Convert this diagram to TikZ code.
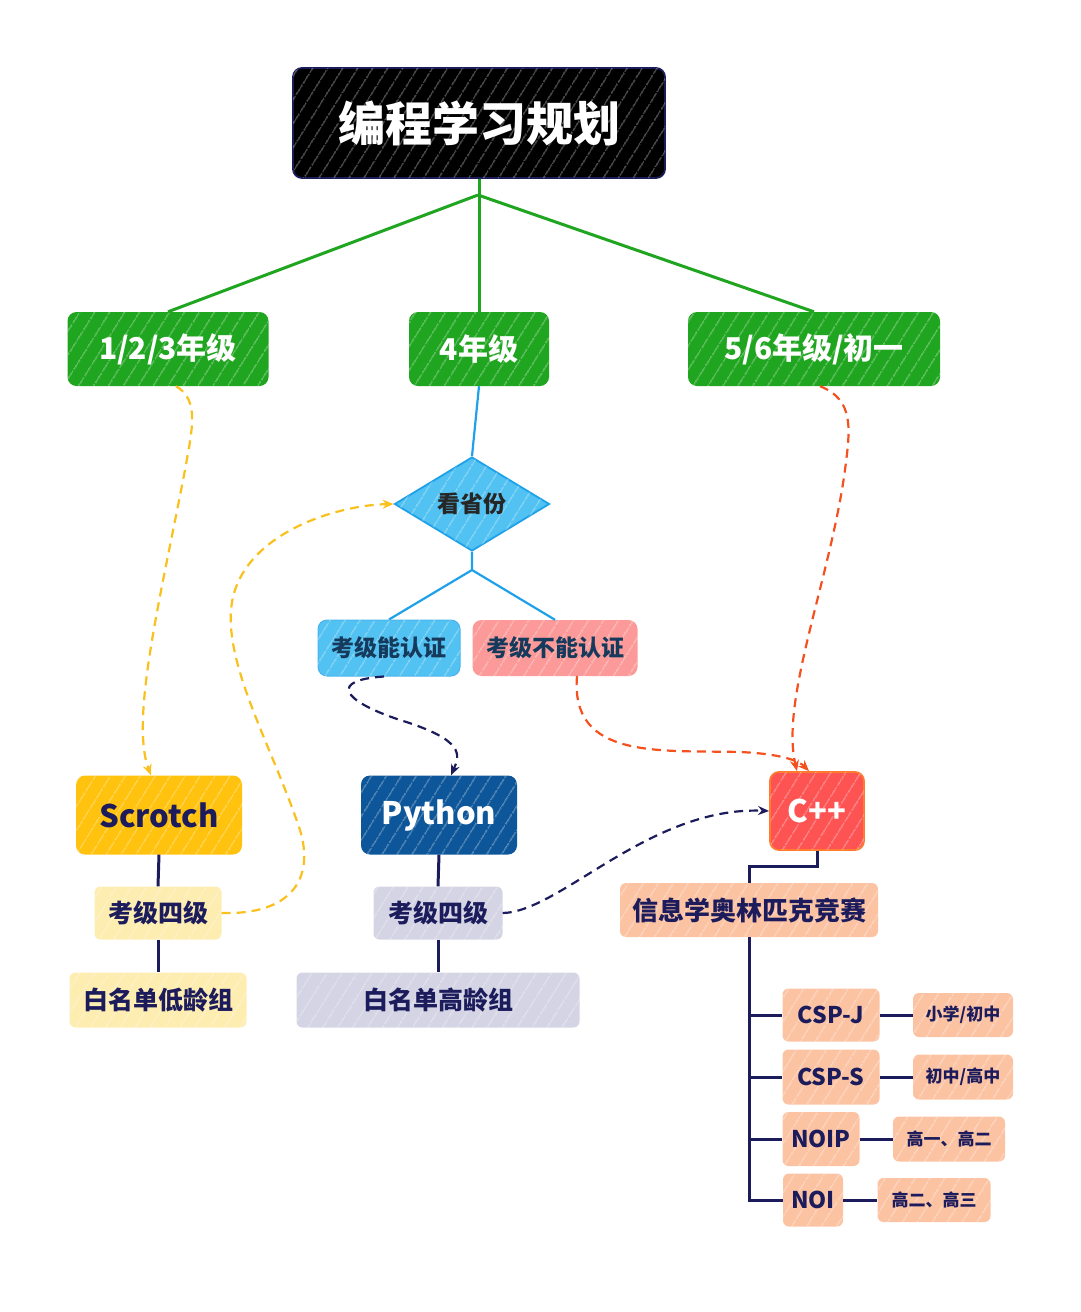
\documentclass[tikz,border=0pt]{standalone}
\usepackage{fontspec}
\newfontfamily\cjk{Noto Sans CJK SC}
\usetikzlibrary{shapes.geometric,patterns.meta,arrows.meta}
\definecolor{navy}{HTML}{1C1C5C}
\definecolor{grn}{HTML}{1FA51F}
\definecolor{sky}{HTML}{52C2F2}
\definecolor{skyline}{HTML}{1EA1E8}
\definecolor{pinkb}{HTML}{FB9A98}
\definecolor{amber}{HTML}{FFC20E}
\definecolor{pyblue}{HTML}{0D5699}
\definecolor{cpp}{HTML}{FD5353}
\definecolor{cppb}{HTML}{FF7B2E}
\definecolor{lyel}{HTML}{FDEDB0}
\definecolor{lgray}{HTML}{D4D4E4}
\definecolor{peach}{HTML}{FCC3A3}
\definecolor{orng}{HTML}{F4511E}
\definecolor{yel}{HTML}{F9C01E}
\definecolor{teal}{HTML}{163A5C}
\begin{document}
\begin{tikzpicture}[x=1pt,y=-1pt,
  hatch/.style={postaction={fill opacity=0.5,pattern={Lines[angle=58,distance=13pt,line width=1pt]},pattern color=white}},
  fnt/.style={font=\cjk\bfseries\fontsize{#1}{#1}\selectfont},
  block/.style={rounded corners=9pt, inner sep=0pt, hatch},
  soft/.style={rounded corners=6pt, inner sep=0pt, hatch, text=navy},
  tree/.style={draw=navy, line width=3pt},
  dsh/.style={line width=2.2pt, dash pattern=on 9pt off 6pt, -{Stealth[length=11pt,width=9pt]}}
]
\useasboundingbox (0,0) rectangle (1080,1312);

% title
\node[block, fill=black, draw=navy, line width=1.8pt, minimum width=372, minimum height=110, text=white, fnt=47] (title) at (479,123) {编程学习规划};

% grade boxes
\node[block, fill=grn, minimum width=201, minimum height=74, text=white, fnt=30] (g1) at (168,349) {1/2/3年级};
\node[block, fill=grn, minimum width=140, minimum height=74, text=white, fnt=30] (g2) at (479,349) {4年级};
\node[block, fill=grn, minimum width=252, minimum height=74, text=white, fnt=30] (g3) at (814,349) {5/6年级/初一};

% diamond
\node[diamond, fill=sky, draw=skyline, line width=1.8pt, minimum width=155, minimum height=94, aspect=1.65, inner sep=0pt, hatch, text=black!85, fnt=23] (dia) at (472,504) {看省份};

\node[block, fill=sky, draw=skyline!80, line width=1pt, minimum width=142, minimum height=56, text=teal, fnt=23] (auth) at (389,648) {考级能认证};
\node[block, fill=pinkb, minimum width=165, minimum height=56, text=teal, fnt=23] (noauth) at (555,648) {考级不能认证};

% languages
\node[block, fill=amber, minimum width=166, minimum height=79, text=navy, fnt=31] (scr) at (159,815) {Scrotch};
\node[block, fill=pyblue, minimum width=156, minimum height=79, text=white, fnt=31] (py) at (439,815) {Python};
\node[block, fill=cpp, draw=cppb, line width=1.8pt, minimum width=94, minimum height=78, text=white, fnt=31] (cpp) at (817,811) {C++};

% sub items
\node[soft, fill=lyel, minimum width=127, minimum height=53, fnt=25] (s4) at (158,913) {考级四级};
\node[soft, fill=lyel, minimum width=177, minimum height=55, fnt=25] (swl) at (158,1000) {白名单低龄组};
\node[soft, fill=lgray, minimum width=129, minimum height=53, fnt=25] (p4) at (438,913) {考级四级};
\node[soft, fill=lgray, minimum width=283, minimum height=55, fnt=25] (pwl) at (438,1000) {白名单高龄组};

\node[soft, fill=peach, minimum width=258, minimum height=54, fnt=26] (comp) at (749,910) {信息学奥林匹克竞赛};
\node[soft, fill=peach, minimum width=97, minimum height=53, fnt=23] (cspj) at (831,1015) {CSP-J};
\node[soft, fill=peach, minimum width=97, minimum height=55, fnt=23] (csps) at (831,1077) {CSP-S};
\node[soft, fill=peach, minimum width=77, minimum height=54, fnt=23] (noip) at (821,1139) {NOIP};
\node[soft, fill=peach, minimum width=60, minimum height=53, fnt=23] (noi) at (813,1200) {NOI};
\node[soft, fill=peach, minimum width=100, minimum height=44, fnt=17] (t1) at (963,1015) {小学/初中};
\node[soft, fill=peach, minimum width=100, minimum height=45, fnt=17] (t2) at (963,1077) {初中/高中};
\node[soft, fill=peach, minimum width=112, minimum height=45, fnt=17] (t3) at (949,1139) {高一、高二};
\node[soft, fill=peach, minimum width=113, minimum height=44, fnt=17] (t4) at (934,1200) {高二、高三};

% green connectors
\coordinate (hub) at (478,195);
\draw[grn, line width=3pt] (title.south) -- (g2.north);
\draw[grn, line width=3pt] (hub) -- (g1.north);
\draw[grn, line width=3pt] (hub) -- (g3.north);

% blue connectors
\coordinate (split) at (472,570);
\draw[skyline, line width=2.2pt] (g2.south) -- (dia.north);
\draw[skyline, line width=2.2pt] (dia.south) -- (split) -- (auth.north);
\draw[skyline, line width=2.2pt] (split) -- (noauth.north);

% tree lines
\draw[tree] (scr.south) -- (s4.north);
\draw[tree] (s4.south) -- (swl.north);
\draw[tree] (py.south) -- (p4.north);
\draw[tree] (p4.south) -- (pwl.north);
\coordinate (elbow) at (749,866);
\draw[tree] (cpp.south) |- (elbow) -- (comp.north);
\draw[tree] (comp.south) |- (cspj.west);
\draw[tree] (comp.south) |- (csps.west);
\draw[tree] (comp.south) |- (noip.west);
\draw[tree] (comp.south) |- (noi.west);
\draw[tree] (cspj.east) -- (t1.west);
\draw[tree] (csps.east) -- (t2.west);
\draw[tree] (noip.east) -- (t3.west);
\draw[tree] (noi.east) -- (t4.west);

% dashed connectors
\draw[dsh, yel] ([xshift=8pt]g1.south) .. controls (200,400) and (192,430) .. (185,470)
  .. controls (160,600) and (130,720) .. ([xshift=-8pt]scr.north);
\draw[dsh, yel] (s4.east) .. controls (290,915) and (315,880) .. (300,830)
  .. controls (270,740) and (215,650) .. (235,590)
  .. controls (255,530) and (340,505) .. (dia.west);
\draw[dsh, navy] ([xshift=-5pt]auth.south) .. controls (330,680) and (340,700) .. (400,720)
  .. controls (465,740) and (460,755) .. ([xshift=12pt]py.north);
\draw[dsh, orng] ([xshift=22pt]noauth.south) .. controls (570,760) and (660,750) .. (740,752)
  .. controls (785,754) and (800,762) .. ([xshift=-8pt]cpp.north);
\draw[dsh, orng] ([xshift=6pt]g3.south) .. controls (855,400) and (850,430) .. (845,470)
  .. controls (830,580) and (780,700) .. ([xshift=-20pt]cpp.north);
\draw[dsh, navy] (p4.east) .. controls (560,912) and (650,806) .. (cpp.west);
\end{tikzpicture}
\end{document}
